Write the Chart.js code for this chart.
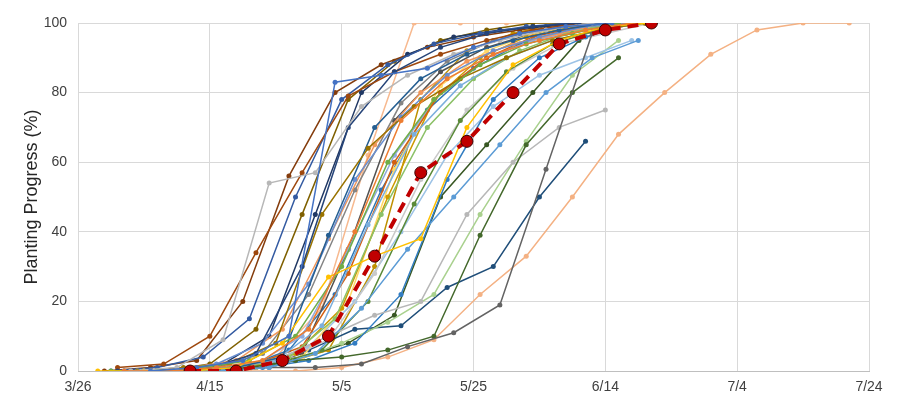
<!DOCTYPE html>
<html>
<head>
<meta charset="utf-8">
<script src="https://cdn.jsdelivr.net/npm/chart.js@4"></script>
<style>
  html, body { margin: 0; padding: 0; background: #fff; }
  #wrap { width: 900px; height: 396px; }
</style>
</head>
<body>
<div id="wrap"><canvas id="plantChart" width="900" height="396"></canvas></div>
<script>
// --- Tick labels (x axis = days after 3/26) ---
const tickLabels = ['3/26', '4/15', '5/5', '5/25', '6/14', '7/4', '7/24'];

// --- Weekly progress per year: first reporting day + weekly values (%) ---
const startDay = [
  11, 7, 8, 3, 8, 5, 6, 6, 15, 9,
  10, 12, 7, 10, 10, 9, 11, 5, 13, 7,
  12, 14, 9, 6, 12, 10, 13, 7, 12, 8,
  4, 13, 6, 14, 6, 10, 11, 9
];
const progress = [
  [0, 1, 3, 10, 83, 85, 87, 93, 97, 99, 100],
  [0, 0, 1, 3, 12, 40, 72, 84, 91, 95, 98, 100],
  [0, 1, 9, 54, 57, 76, 85, 91, 95, 98, 100],
  [0, 0, 0, 1, 8, 27, 33, 38, 70, 88, 95, 99, 100],
  [0, 0, 0, 1, 5, 18, 35, 50, 65, 80, 90, 95],
  [0, 0, 1, 3, 10, 30, 60, 78, 88, 94, 97, 100],
  [0, 0, 1, 5, 30, 70, 86, 93, 97, 99, 100],
  [1, 2, 10, 34, 57, 79, 86, 91, 95, 98, 100],
  [0, 0, 1, 1, 2, 7, 11, 19, 58, 97],
  [0, 1, 2, 8, 45, 64, 76, 84, 90, 95, 98, 100],
  [0, 0, 1, 4, 39, 70, 84, 91, 95, 98, 100],
  [0, 0, 1, 3, 4, 6, 10, 39, 65, 80, 90],
  [0, 0, 2, 8, 25, 55, 73, 85, 92, 96, 99, 100],
  [0, 1, 3, 12, 38, 65, 80, 89, 94, 97, 100],
  [0, 0, 1, 4, 10, 16, 20, 45, 60, 70, 75],
  [0, 0, 1, 3, 13, 42, 68, 82, 90, 95, 98, 100],
  [0, 0, 1, 4, 15, 45, 70, 84, 92, 97, 100],
  [0, 1, 4, 15, 50, 78, 88, 94, 97, 99, 100],
  [0, 0, 2, 7, 28, 60, 80, 90, 96, 99, 100],
  [0, 0, 1, 5, 22, 52, 77, 89, 95, 98, 100, 100],
  [0, 0, 1, 5, 18, 50, 78, 90, 96, 99, 100],
  [0, 0, 1, 3, 8, 22, 55, 78, 90, 96, 100],
  [0, 0, 1, 2, 6, 20, 48, 72, 86, 94, 98, 100],
  [0, 0, 0, 2, 10, 35, 62, 80, 90, 95, 98, 100],
  [0, 0, 0, 0, 1, 4, 9, 22, 33, 50, 68, 80, 91, 98, 100, 100],
  [0, 0, 1, 3, 9, 28, 55, 75, 87, 94, 97, 100],
  [0, 0, 1, 4, 20, 58, 82, 92, 97, 100],
  [0, 0, 1, 2, 7, 20, 40, 62, 76, 85, 90, 95],
  [0, 0, 1, 3, 8, 14, 22, 45, 66, 85, 95],
  [0, 0, 2, 10, 45, 80, 91, 96, 98, 99, 100],
  [0, 1, 3, 20, 56, 80, 88, 93, 96, 98, 100],
  [0, 0, 1, 5, 35, 72, 86, 93, 97, 100],
  [0, 0, 2, 12, 45, 78, 89, 95, 98, 100, 100],
  [0, 0, 2, 6, 12, 13, 24, 30, 50, 66],
  [0, 0, 1, 2, 4, 8, 16, 50, 65, 80, 95, 100],
  [0, 0, 1, 2, 6, 30, 78, 92, 97, 100],
  [0, 0, 1, 6, 22, 52, 75, 87, 94, 98, 100],
  [0, 0, 1, 4, 18, 62, 100, 100, 100, 100, 100, 100]
];

// --- Average (red dashed) ---
const avgStart = 17;
const avgProgress = [0, 0, 3, 10, 33, 57, 66, 80, 94, 98, 100];

// --- Colors (Excel style cycle) ---
const palette = [
  '#4472C4', '#ED7D31', '#B7B7B7', '#FFC000', '#5B9BD5', '#70AD47',
  '#264478', '#9E480E', '#636363', '#997300', '#255E91', '#43682B',
  '#698ED0', '#F1975A', '#B7B7B7', '#7CAFDD', '#8CC168', '#335AA1',
  '#D26012', '#848484', '#CC9A00', '#327DC2', '#5A8A39', '#8FAADC',
  '#F4B183', '#C9C9C9', '#FFD966', '#9DC3E6', '#A9D18E', '#203864',
  '#843C0C', '#525252', '#7F6000', '#1F4E79', '#385723', '#BF9000',
  '#2E75B6', '#F7B98F'
];

const toPoints = (start, vals) => vals.map((v, i) => ({ x: start + 7 * i, y: v }));

const datasets = progress.map((vals, i) => ({
  data: toPoints(startDay[i], vals),
  borderColor: palette[i],
  backgroundColor: palette[i],
  borderWidth: 1.5,
  pointRadius: 2.5,
  pointBorderWidth: 0,
  fill: false,
  tension: 0
}));

datasets.push({
  data: toPoints(avgStart, avgProgress),
  borderColor: '#C00000',
  backgroundColor: '#C00000',
  pointBorderColor: '#3a0000',
  borderWidth: 4,
  borderDash: [11, 7],
  pointRadius: 6,
  pointBorderWidth: 1,
  fill: false,
  tension: 0,
  order: -1
});

const FONT = 'Liberation Sans, Arial, sans-serif';

new Chart(document.getElementById('plantChart'), {
  type: 'line',
  data: { datasets: datasets },
  options: {
    responsive: false,
    animation: false,
    layout: { padding: { top: 23, right: 31, left: 21, bottom: 0 } },
    plugins: { legend: { display: false }, tooltip: { enabled: false } },
    scales: {
      x: {
        type: 'linear',
        min: 0,
        max: 120,
        ticks: {
          stepSize: 20,
          padding: 8,
          color: '#404040',
          font: { family: FONT, size: 14 },
          callback: v => tickLabels[v / 20]
        },
        grid: { color: '#d9d9d9', drawTicks: false },
        border: { color: '#bfbfbf' },
        afterFit: s => { s.height = 25; }
      },
      y: {
        min: 0,
        max: 100,
        ticks: {
          stepSize: 20,
          padding: 11,
          color: '#404040',
          font: { family: FONT, size: 14 }
        },
        grid: { color: '#d9d9d9', drawTicks: false },
        border: { display: false },
        title: {
          display: true,
          text: 'Planting Progress (%)',
          color: '#262626',
          font: { family: FONT, size: 18 },
          padding: { top: 0, bottom: 0 }
        },
        afterFit: s => { s.width = 57; }
      }
    }
  }
});
</script>
</body>
</html>
